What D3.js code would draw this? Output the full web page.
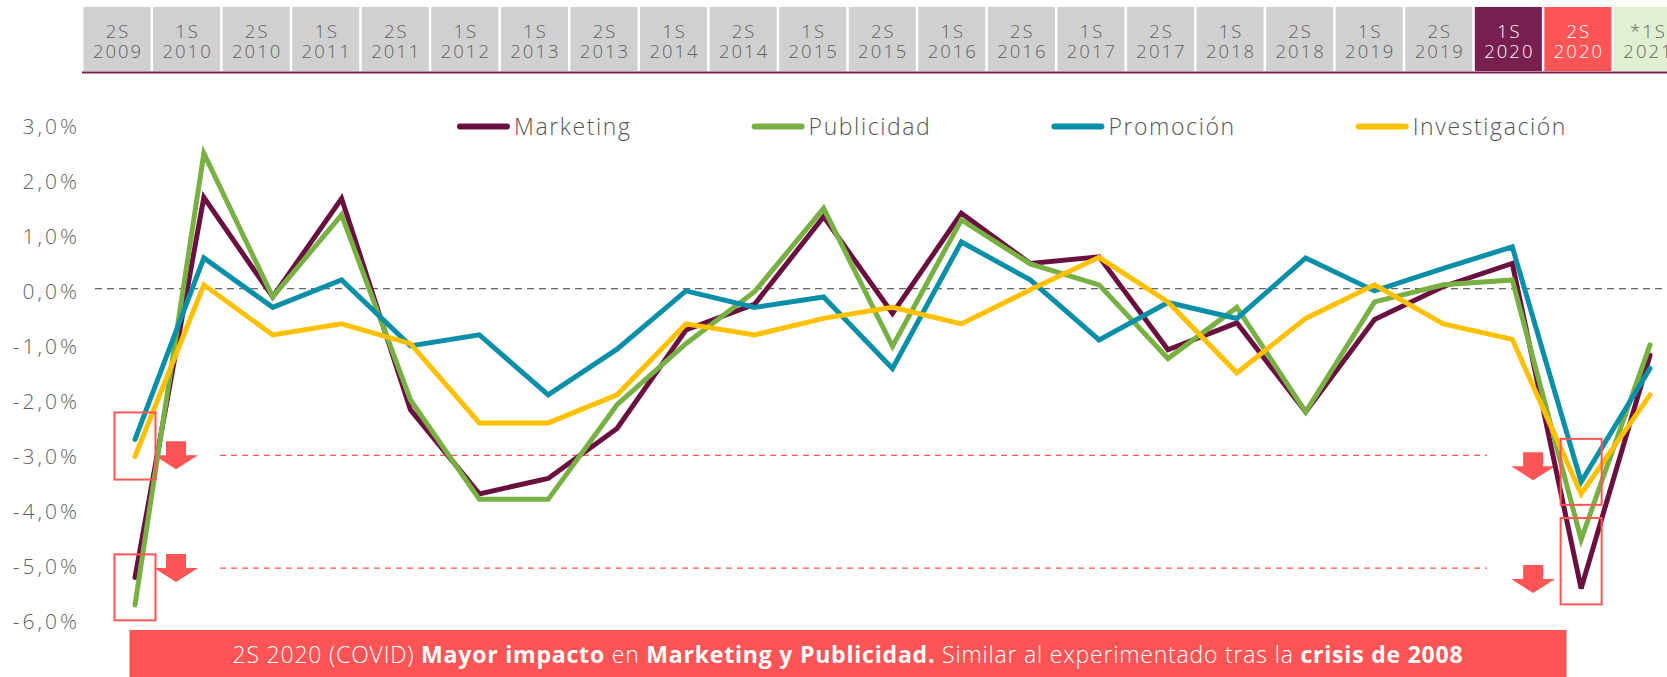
<!DOCTYPE html>
<html>
<head>
<meta charset="utf-8">
<script src="https://cdn.jsdelivr.net/npm/d3@7"></script>
<style>
  body { margin: 0; background: #fff; }
  svg { display: block; font-family: "Open Sans", Lato, sans-serif; }
</style>
</head>
<body>
<svg width="1667" height="677"></svg>
<script>
// periods (semesters) shown in the header and on the x axis
var periods = ["2S 2009", "1S 2010", "2S 2010", "1S 2011", "2S 2011", "1S 2012", "1S 2013",
  "2S 2013", "1S 2014", "2S 2014", "1S 2015", "2S 2015", "1S 2016", "2S 2016", "1S 2017",
  "2S 2017", "1S 2018", "2S 2018", "1S 2019", "2S 2019", "1S 2020", "2S 2020", "*1S 2021"];

var marketing = [-5.25, 1.66, -0.15, 1.64, -2.2, -3.73, -3.45, -2.54, -0.75, -0.28, 1.31, -0.45,
  1.37, 0.46, 0.58, -1.11, -0.62, -2.24, -0.56, 0.04, 0.46, -5.45, -1.21];
var publicidad = [-5.75, 2.46, -0.15, 1.34, -2.02, -3.83, -3.83, -2.11, -1.0, -0.05, 1.46, -1.05,
  1.25, 0.45, 0.07, -1.27, -0.34, -2.24, -0.24, 0.07, 0.16, -4.56, -1.02];
var promocion = [-2.74, 0.56, -0.34, 0.16, -1.04, -0.84, -1.93, -1.1, -0.04, -0.34, -0.15, -1.45,
  0.85, 0.16, -0.93, -0.25, -0.54, 0.56, -0.04, 0.37, 0.76, -3.51, -1.45];
var investigacion = [-3.05, 0.07, -0.84, -0.64, -1.0, -2.44, -2.44, -1.93, -0.64, -0.84, -0.54, -0.34,
  -0.64, -0.02, 0.57, -0.24, -1.53, -0.54, 0.07, -0.64, -0.92, -3.73, -1.93];

var seriesNames = ["Marketing", "Publicidad", "Promoción", "Investigación"];
var seriesColors = ["#6a1040", "#78b043", "#0a8fa8", "#ffc000"];
var yTicks = [3, 2, 1, 0, -1, -2, -3, -4, -5, -6];

// reference levels (red dashed) and highlight boxes [period, top, bottom]
var refLevels = [-3.03, -5.08];
var boxes = [["2S 2009", -2.25, -3.47], ["2S 2009", -4.83, -6.03],
             ["2S 2020", -2.73, -3.93], ["2S 2020", -4.17, -5.74]];

var series = [marketing, publicidad, promocion, investigacion];

var svg = d3.select("svg");
var red = "#fd5555";

// scales
var x = d3.scalePoint().domain(periods).range([135, 1650]);
var y = d3.scaleLinear().domain([-6, 3]).range([618.7, 123.7]);
var tab = d3.scaleBand().domain(periods).range([83.5, 1681]).paddingInner(0.036);

// header tabs
var tabFill = function(d) {
  if (d == "1S 2020") return "#781f4f";
  if (d == "2S 2020") return red;
  if (d == "*1S 2021") return "#e2f0d2";
  return "#d0d0d0";
};
var tabText = function(d) {
  return (d == "1S 2020" || d == "2S 2020") ? "#fff" : "#5f5f5f";
};
var tabs = svg.append("g").selectAll("g").data(periods).enter().append("g")
    .attr("transform", function(d) { return "translate(" + tab(d) + ",7)"; });
tabs.append("rect")
    .attr("width", tab.bandwidth())
    .attr("height", 64)
    .attr("fill", tabFill);
tabs.each(function(d) {
  var g = d3.select(this);
  d.split(" ").forEach(function(part, k) {
    g.append("text")
        .attr("x", tab.bandwidth() / 2 + 1)
        .attr("y", 31 + k * 20)
        .attr("text-anchor", "middle")
        .attr("font-size", 18.5)
        .attr("font-weight", 300)
        .attr("letter-spacing", 2)
        .attr("fill", tabText(d))
        .text(part);
  });
});
svg.append("line")
    .attr("x1", 82).attr("x2", 1667)
    .attr("y1", 72.5).attr("y2", 72.5)
    .attr("stroke", "#781f4f")
    .attr("stroke-width", 2);

// y axis
var yAxis = d3.axisLeft(y)
    .tickValues(yTicks)
    .tickSize(0)
    .tickPadding(0)
    .tickFormat(function(d) {
      return (d < 0 ? "-" : "") + Math.abs(d).toFixed(1).replace(".", ",") + "%";
    });
var ag = svg.append("g").attr("transform", "translate(80,3)").call(yAxis);
ag.select(".domain").remove();
ag.selectAll("text")
    .attr("font-family", "'Open Sans', sans-serif")
    .attr("font-size", 21)
    .attr("font-weight", 300)
    .attr("letter-spacing", 3)
    .attr("fill", "#5f5f5f");

// zero line
svg.append("line")
    .attr("x1", 95).attr("x2", 1667)
    .attr("y1", y(0)).attr("y2", y(0))
    .attr("stroke", "#666")
    .attr("stroke-width", 1.3)
    .attr("stroke-dasharray", "7,5");

// red reference lines
svg.append("g").selectAll("line").data(refLevels).enter().append("line")
    .attr("x1", 220).attr("x2", 1487)
    .attr("y1", function(d) { return y(d); })
    .attr("y2", function(d) { return y(d); })
    .attr("stroke", red)
    .attr("stroke-width", 1.3)
    .attr("stroke-dasharray", "6,5");

// down arrows next to the reference lines
var arrowPath = function(cx, top) {
  return "M" + (cx - 10) + "," + top + "H" + (cx + 10) + "V" + (top + 14) +
    "H" + (cx + 22) + "L" + cx + "," + (top + 28) + "L" + (cx - 22) + "," + (top + 14) +
    "H" + (cx - 10) + "Z";
};
var arrows = [];
refLevels.forEach(function(v) {
  arrows.push([x(periods[0]) + 41, y(v) - 14]);
  arrows.push([x(periods[21]) - 48, y(v) - 3]);
});
svg.append("g").selectAll("path").data(arrows).enter().append("path")
    .attr("d", function(d) { return arrowPath(d[0], d[1]); })
    .attr("fill", red);

// series lines
var line = d3.line()
    .x(function(d, i) { return x(periods[i]); })
    .y(function(d) { return y(d); });
svg.append("g").selectAll("path").data(series).enter().append("path")
    .attr("d", line)
    .attr("fill", "none")
    .attr("stroke", function(d, i) { return seriesColors[i]; })
    .attr("stroke-width", 5)
    .attr("stroke-linecap", "round");

// highlight boxes
svg.append("g").selectAll("rect").data(boxes).enter().append("rect")
    .attr("x", function(d) { return x(d[0]) - 20.5; })
    .attr("y", function(d) { return y(d[1]); })
    .attr("width", 41)
    .attr("height", function(d) { return y(d[2]) - y(d[1]); })
    .attr("fill", "none")
    .attr("stroke", red)
    .attr("stroke-width", 2);

// legend
var lx = 457;
seriesNames.forEach(function(name, i) {
  var g = svg.append("g").attr("transform", "translate(" + lx + ",126.5)");
  g.append("line")
      .attr("x1", 3).attr("x2", 50)
      .attr("stroke", seriesColors[i])
      .attr("stroke-width", 6)
      .attr("stroke-linecap", "round");
  var t = g.append("text")
      .attr("x", 57)
      .attr("dy", "0.35em")
      .attr("font-size", 23)
      .attr("font-weight", 300)
      .attr("letter-spacing", 1.6)
      .attr("fill", "#555")
      .text(name);
  lx += 57 + t.node().getComputedTextLength() + 120;
});

// bottom banner
svg.append("rect")
    .attr("x", 129.5).attr("y", 630)
    .attr("width", 1437).attr("height", 50)
    .attr("fill", red);
var banner = svg.append("text")
    .attr("x", 848).attr("y", 655)
    .attr("dy", "0.35em")
    .attr("text-anchor", "middle")
    .attr("font-size", 23)
    .attr("letter-spacing", 0.8)
    .attr("fill", "#fff");
[["2S 2020 (COVID) ", 300], ["Mayor impacto", 700], [" en ", 300],
 ["Marketing y Publicidad.", 700], [" Similar al experimentado tras la ", 300],
 ["crisis de 2008", 700]].forEach(function(p) {
  banner.append("tspan").attr("font-weight", p[1]).text(p[0]);
});
</script>
</body>
</html>
